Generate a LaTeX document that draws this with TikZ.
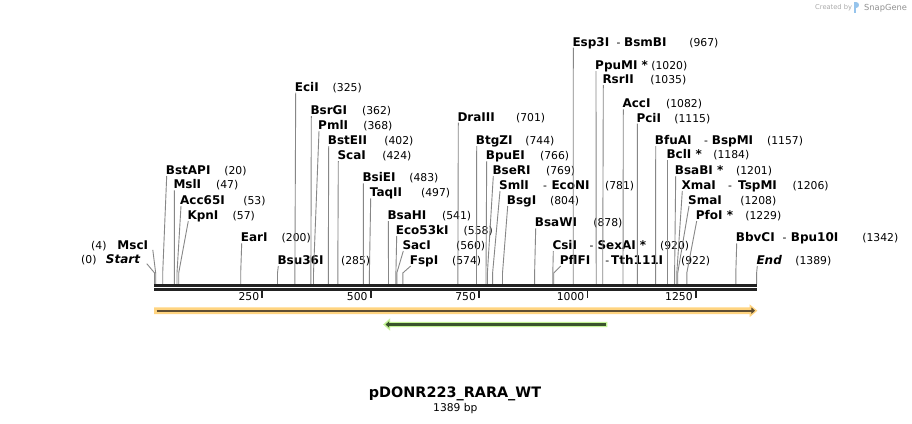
\documentclass[tikz,border=0pt]{standalone}
\usepackage{fontspec}
\setmainfont{DejaVu Sans}
\usetikzlibrary{arrows.meta}
\definecolor{bb}{RGB}{34,34,34}
\definecolor{cutc}{RGB}{135,135,135}
\definecolor{orf}{RGB}{255,212,128}
\definecolor{ord}{RGB}{95,78,50}
\definecolor{grf}{RGB}{196,244,150}
\definecolor{grd}{RGB}{58,84,44}
\definecolor{wm}{RGB}{170,170,170}
\definecolor{logoc}{RGB}{150,196,236}
\tikzset{
  enzname/.style={font=\fontsize{12}{14}\selectfont\bfseries, inner sep=0pt, text=black},
  enznum/.style={font=\fontsize{10.8}{13}\selectfont, inner sep=0pt, text=black},
  cutline/.style={draw=cutc, line width=0.9pt},
  bbline/.style={draw=bb, line width=2.6pt},
  tickmark/.style={draw=bb, line width=1.8pt},
  ticklabel/.style={font=\fontsize{10.8}{13}\selectfont, inner sep=0pt, anchor=base east},
}
% id, label x, row y, name, number x, number, cut x
\newcommand\renz[7]{%
  \node[enzname, anchor=base west] (n#1) at (#2-1,#3+4.4) {#4};
  \node[enznum, anchor=base west] (v#1) at (#5-0.8,#3+4.4) {#6};
  \coordinate (k#1) at (#7,273);
  \coordinate (c#1) at (#7,284);
  \draw[cutline] ([xshift=1pt,yshift=-1.6pt]n#1.base west) -- (k#1) -- (c#1);
}
% id, row y, dash x, second name x, second name
\newcommand\renzz[5]{%
  \node[enznum, anchor=base west] (d#1) at (#3-0.5,#2+4.4) {-};
  \node[enzname, anchor=base west] (m#1) at (#4-1,#2+4.4) {#5};
}
\begin{document}
\begin{tikzpicture}[x=1pt,y=-1pt]
\useasboundingbox[fill=white] (0,0) rectangle (912,423);

% watermark
\node[font=\fontsize{6.7}{8}\selectfont, text=wm, inner sep=0pt, anchor=base west] (wm1) at (815,9.5) {Created by};
\fill[logoc] (854,1.5) rectangle (856.2,13);
\fill[logoc] (856.2,1.5) .. controls (860,1.5) and (860,8) .. (856.2,8) -- cycle;
\node[font=\fontsize{8.3}{10}\selectfont, text=wm!85!black, inner sep=0pt, anchor=base west] (wm2) at (864,10.5) {SnapGene};

% left-side labels
\node[enzname, anchor=base east] (nMsc) at (148.3,249.4) {MscI};
\node[enznum, anchor=base west] (vMsc) at (91,249.4) {(4)};
\coordinate (kMsc) at (155.7,273);
\coordinate (cMsc) at (155.7,284);
\draw[cutline] ([xshift=4.5pt,yshift=-0.5pt]nMsc.base east) -- (kMsc) -- (cMsc);

\node[enzname, font=\fontsize{12}{14}\selectfont\bfseries\itshape, anchor=base east] (nStart) at (140.3,263.7) {Start};
\node[enznum, anchor=base west] (vStart) at (81,263.7) {(0)};
\coordinate (kStart) at (154.6,273);
\coordinate (cStart) at (154.6,284);
\draw[cutline] ([xshift=6.5pt]nStart.base east) -- (kStart) -- (cStart);

% right-side labels
\renz{1}{166.7}{170}{BstAPI}{225}{(20)}{162.7}
\renz{2}{174.3}{184.3}{MslI}{216.7}{(47)}{174.4}
\renz{3}{181}{200}{Acc65I}{244}{(53)}{177}
\renz{4}{188.3}{215}{KpnI}{233.3}{(57)}{178.7}
\renz{5}{241.7}{237.3}{EarI}{282.3}{(200)}{240.7}
\renz{6}{278.3}{260}{Bsu36I}{341.7}{(285)}{277.5}
\renz{7}{295.7}{86.7}{EciI}{333.3}{(325)}{294.9}
\renz{8}{311.3}{110}{BsrGI}{362.7}{(362)}{310.9}
\renz{9}{319}{125}{PmlI}{364}{(368)}{313.5}
\renz{10}{328.7}{140}{BstEII}{385}{(402)}{328.3}
\renz{11}{338.3}{155}{ScaI}{383}{(424)}{337.8}
\renz{12}{363.3}{177.3}{BsiEI}{410}{(483)}{363.4}
\renz{13}{370.7}{192.3}{TaqII}{421.7}{(497)}{369.4}
\renz{14}{388.3}{215}{BsaHI}{442.7}{(541)}{388.5}
\renz{15}{396.7}{230}{Eco53kI}{464.3}{(558)}{395.9}
\renz{16}{403.3}{245}{SacI}{456.7}{(560)}{396.8}
\renz{17}{410.7}{260}{FspI}{452.7}{(574)}{402.8}
\renz{18}{458.3}{116.7}{DraIII}{516.7}{(701)}{457.9}
\renz{19}{476.7}{140}{BtgZI}{526}{(744)}{476.5}
\renz{20}{486.7}{155}{BpuEI}{540.7}{(766)}{486}
\renz{21}{493.3}{170}{BseRI}{546.7}{(769)}{487.4}
\renz{22}{500}{185}{SmlI}{605.7}{(781)}{492.6}
\renzz{22}{185}{543.3}{552.3}{EcoNI}
\renz{23}{507.7}{200}{BsgI}{550.7}{(804)}{502.5}
\renz{24}{535.7}{222.3}{BsaWI}{594}{(878)}{534.6}
\renz{25}{553.3}{245}{CsiI}{660.7}{(920)}{552.8}
\renzz{25}{245}{590}{598.3}{SexAI *}
\renz{26}{560.7}{260}{PflFI}{681.7}{(922)}{553.7}
\renzz{26}{260}{605.7}{612}{Tth111I}
\renz{27}{573.3}{41.7}{Esp3I}{690}{(967)}{573.2}
\renzz{27}{41.7}{617}{625}{BsmBI}
\renz{28}{596}{65}{PpuMI *}{652}{(1020)}{596.2}
\renz{29}{603.3}{79}{RsrII}{651}{(1035)}{602.7}
\renz{30}{623.3}{103.3}{AccI}{666.7}{(1082)}{623}
\renz{31}{637.3}{117.7}{PciI}{675}{(1115)}{637.4}
\renz{32}{655.7}{140}{BfuAI}{767.7}{(1157)}{655.6}
\renzz{32}{140}{704.3}{712.7}{BspMI}
\renz{33}{667.3}{154.3}{BclI *}{714}{(1184)}{667.3}
\renz{34}{675.7}{170}{BsaBI *}{736.7}{(1201)}{674.6}
\renz{35}{682.3}{185}{XmaI}{793.3}{(1206)}{676.8}
\renzz{35}{185}{728.3}{739}{TspMI}
\renz{36}{689}{200}{SmaI}{741}{(1208)}{677.7}
\renz{37}{696.7}{215}{PfoI *}{746}{(1229)}{686.8}
\renz{38}{736.7}{237.3}{BbvCI}{863}{(1342)}{735.8}
\renzz{38}{237.3}{783}{791.7}{Bpu10I}
\renz{39}{757.3}{260}{\itshape End}{796}{(1389)}{756.6}

% backbone
\draw[bbline] (154,285.3) -- (757.3,285.3);
\draw[bbline] (154,289.6) -- (757.3,289.6);

% ticks
\foreach \t in {250,500,750,1000,1250}{
  \pgfmathsetmacro\tx{154+0.4335*\t}
  \draw[tickmark] (\tx,290.5) -- (\tx,298.3);
  \node[ticklabel] (tl\t) at (\tx-3,300.5) {\t};
}

% features
\fill[orf] (154,307.4) -- (749.6,307.4) -- (749.6,304.3) -- (757.4,310.7) -- (749.6,317.1) -- (749.6,314) -- (154,314) -- cycle;
\draw[ord, line width=2.1pt, -{Triangle[length=3.6pt,width=6.2pt]}] (156.5,310.7) -- (755,310.7);

\fill[grf] (607.4,321.8) -- (390.2,321.8) -- (390.2,318.2) -- (383.2,324.5) -- (390.2,330.8) -- (390.2,327.2) -- (607.4,327.2) -- cycle;
\draw[grd, line width=2.1pt, -{Triangle[length=3.6pt,width=6.2pt]}] (605.8,324.5) -- (385.6,324.5);

% title
\node[font=\fontsize{14.4}{17}\selectfont\bfseries, inner sep=0pt, anchor=base] (title) at (455,397.6) {pDONR223\_RARA\_WT};
\node[font=\fontsize{10.7}{13}\selectfont, inner sep=0pt, anchor=base] (len) at (455.3,411) {1389 bp};
\end{tikzpicture}
\end{document}
